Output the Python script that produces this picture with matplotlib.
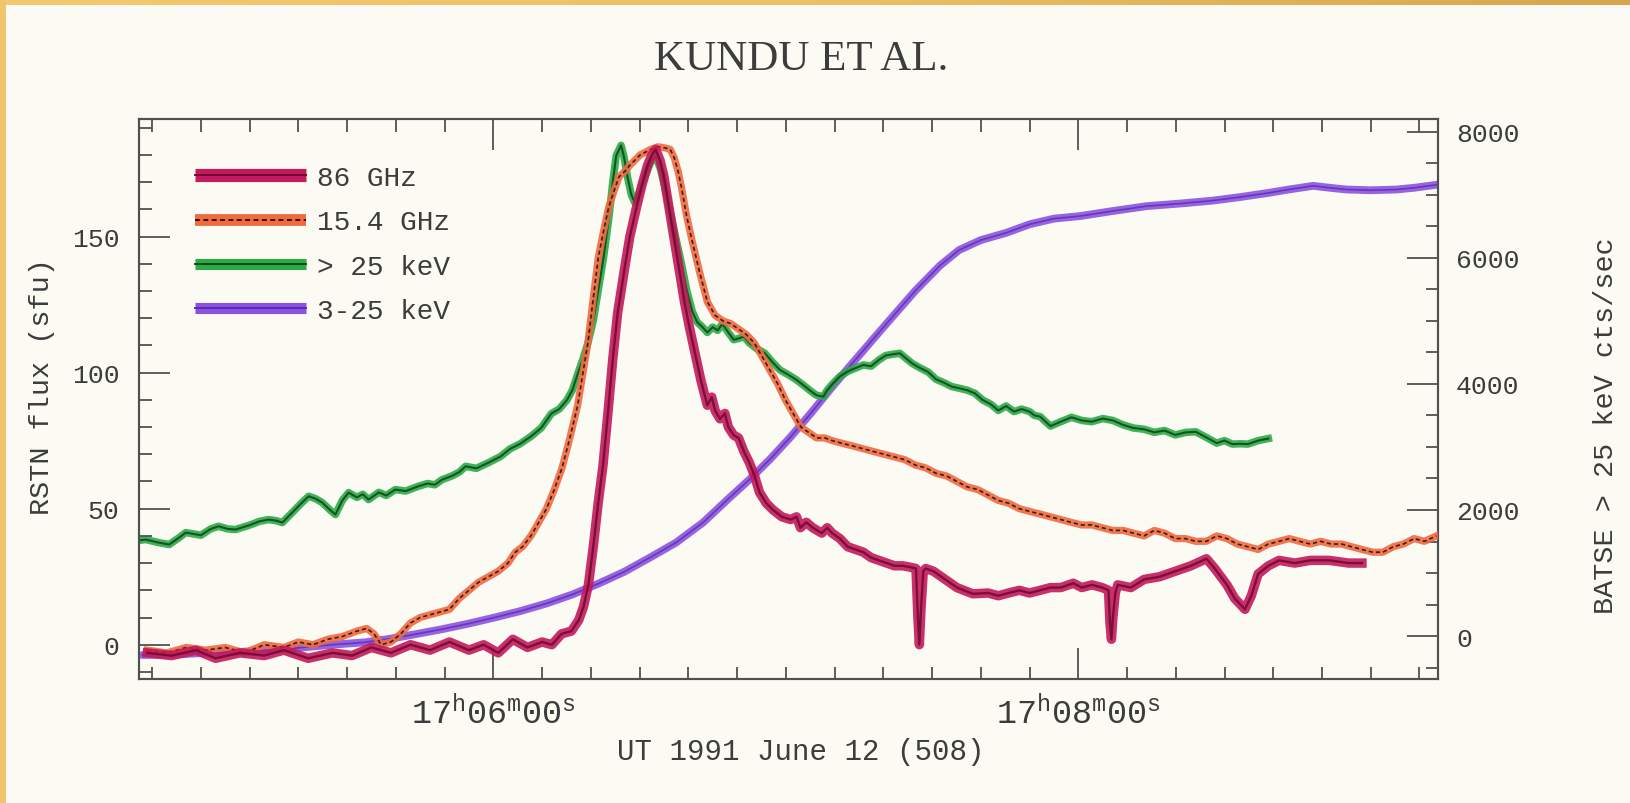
import matplotlib
matplotlib.use("Agg")
import matplotlib.pyplot as plt
import numpy as np
from matplotlib.lines import Line2D
from matplotlib.legend_handler import HandlerTuple
from matplotlib.ticker import MultipleLocator, FixedLocator
from matplotlib.colors import LinearSegmentedColormap

plt.rcParams['mathtext.fontset'] = 'custom'
plt.rcParams['mathtext.rm'] = 'Liberation Mono'
plt.rcParams['mathtext.it'] = 'Liberation Mono'
plt.rcParams['mathtext.bf'] = 'Liberation Mono:bold'

# ---------------- data (time in seconds after 17:06:00 UT) ----------------
t_86 = [-71, -66, -61, -57, -52, -47, -43, -38, -33, -29, -25, -21, -17, -13, -9, -5, -2, 1, 4, 7,
        10, 12, 14, 16, 17.5, 18.5, 19.5, 20.5, 21.5, 22.5, 23.5, 24.5, 25.5, 26.9, 28, 29.4, 30.5,
        31.6, 32.5, 33.3, 34.2, 35, 36, 37.1, 38.2, 39.2, 40.3, 41.4, 42.6, 43.9, 44.8, 45.5, 46.5,
        47.5, 48.2, 49.3, 50.3, 51.4, 52.5, 53.6, 54.6, 56, 57.4, 59.2, 61, 62.2, 63, 64.2, 65.5,
        67.4, 68.5, 69.5, 71.1, 72.7, 74.3, 75.9, 77.5, 79.1, 80.7, 82.3, 84, 85.5, 86.7, 87.1,
        87.4, 87.7, 88.2, 88.7, 90.3, 91.9, 93.5, 95.1, 97.2, 98.4, 101.5, 103.6, 105.7, 107.9,
        110, 112.2, 114.3, 116.4, 119, 120.7, 122.8, 124.9, 126.2, 126.5, 126.8, 127.1, 127.6,
        128.1, 130.8, 133.5, 136.7, 139.9, 143.1, 146.3, 148, 150.5, 152.1, 154.2, 155.5, 156.9,
        159, 161.2, 164.4, 167.6, 171.5, 175.5, 178.2]
v_86 = [-3, -4, -2, -5, -3, -4, -2, -5, -3, -4, -1, -3, 0, -2, 1, -2, 0, -3, 2, -1,
        1, 0, 4, 5, 9, 14, 22, 36, 52, 66, 85, 105, 122, 138, 150, 161, 169,
        176, 180, 182, 178, 172, 161, 149, 137, 126, 116, 107, 97, 88, 91, 86, 83,
        85, 80, 77, 76, 71, 67, 62, 56, 52, 49.5, 47, 46, 47, 43, 45, 43,
        41, 43, 41, 39, 36, 35, 34, 32, 31, 30, 29, 29, 28.5, 28, 10,
        0, 12, 27, 28, 27, 25, 23, 21, 19.5, 18.7, 19, 18, 19, 20,
        19, 20, 21, 21, 22.6, 21, 22, 21, 20, 8, 2, 10, 19,
        22, 21, 24, 25, 27, 29, 31.6, 28, 22, 17, 13, 18, 26,
        29, 31, 30, 31, 31, 30, 30]

t_154 = [-71, -67, -63, -59, -55, -51, -47, -43, -40, -37, -34, -31, -28, -26, -24.5, -23, -21, -19,
         -17, -15, -13, -11, -9, -7, -5, -3, -1, 1, 3, 4.5, 6, 7.7, 9, 10.9, 12.5, 14.1, 15.7,
         17.3, 18.4, 19.4, 20.4, 21.5, 22.6, 23.7, 24.8, 25.8, 27, 27.9, 29, 30.1, 31.2, 32.2,
         33.8, 35.4, 36.3, 37.1, 37.9, 38.6, 39.6, 40.7, 42.3, 43.9, 45.5, 47.1, 48.7, 50.3, 51.9,
         53.5, 55.1, 56.7, 58.3, 59.9, 61.5, 63.1, 64.7, 66.3, 68, 69.5, 71.6, 73.8, 75.9, 78,
         80.1, 82.3, 84.4, 86.6, 88.7, 90.8, 93, 95.1, 97.2, 99.4, 101.5, 103.6, 105.7, 107.9,
         110, 112.2, 114.3, 116.4, 118.5, 120.7, 122.8, 124.9, 127, 129.2, 131.3, 133.5, 135.6,
         137.7, 139.9, 142, 144.1, 146.3, 148.4, 150.5, 152.6, 154.8, 156.9, 159, 161.2, 163.3,
         165.4, 167.6, 169.7, 171.9, 174, 176.1, 178.2, 180.4, 182.5, 184.6, 186.7, 188.9, 191,
         193.5]
v_154 = [-2, -3, -1, -2, -1, -3, 0, -1, 1, 0, 2, 3, 5, 6, 4, 0, 1, 4,
         8, 10, 11, 12, 13, 17, 20, 23, 25, 27, 30, 34, 36, 40, 44, 50, 57, 65, 76,
         88, 100, 111, 126, 142, 152, 161, 167, 172, 174, 176, 178, 180, 181, 182,
         183, 182.5, 182, 179, 174, 168, 158, 149, 137, 126, 121, 119, 118, 116, 114,
         111, 106, 101, 96, 90, 85, 80, 78, 76, 76, 75, 74, 73, 72, 71,
         70, 69, 68, 66, 65, 63, 62, 60, 58, 57, 55, 53, 52, 50,
         49, 48, 47, 46, 45, 44, 44, 43, 42, 42, 41, 40, 42,
         41, 39, 39, 38, 38, 40, 39, 37, 36, 35, 37, 38, 39,
         38, 37, 38, 37, 37, 36, 35, 34, 34, 36, 37, 39, 38,
         40]

t_hxr = [-72.5, -71.3, -68.5, -66.5, -64.5, -63.1, -60, -58, -56.4, -54.5, -52.9, -50, -48, -46.1,
         -44.5, -43.3, -41, -39.5, -37.9, -36.5, -35.1, -33.5, -32.4, -31, -29.7, -28, -26.8,
         -25.6, -23.5, -22, -20.1, -18, -15.4, -13.5, -12, -10.5, -8.5, -7, -5.7, -3.5, -0.9,
         1.5, 3.4, 5.5, 7.7, 9.8, 11.9, 13.5, 15.1, 16.2, 17.3, 18.4, 19.4, 20.5, 21.5, 22.6,
         23.7, 24.5, 25.2, 26.2, 26.8, 27.5, 28.3, 29, 30, 31.1, 32.2, 33.3, 34.3, 35.4, 36.5,
         37.5, 38.6, 39.7, 40.8, 41.8, 42.9, 43.9, 45, 46, 47, 48.2, 49.3, 50.3, 51.4, 52.5, 54,
         55.7, 57.2, 58.8, 60.4, 62, 63.6, 65.2, 66.3, 67.7, 68.5, 69.5, 71.1, 72.7, 74.3, 75.9,
         77.5, 79.1, 80.5, 82, 83.4, 84.4, 86, 87.6, 89.2, 90.8, 92.4, 94, 95.6, 97.2, 98.8,
         100.4, 102, 103.6, 105.2, 106.8, 108.4, 110, 111, 112.2, 113.3, 114.3, 116.4, 118.6,
         120.7, 122.8, 125, 127.1, 129.2, 131.3, 133.5, 135.6, 137.7, 139.9, 142, 144.1, 146.3,
         148.4, 150, 151.6, 153.2, 154.8, 156.9, 159]
r_hxr = [1520, 1531, 1480, 1452, 1560, 1642, 1600, 1700, 1742, 1700, 1690, 1760, 1820, 1848,
         1830, 1800, 1980, 2100, 2218, 2180, 2117, 2000, 1927, 2150, 2276, 2200, 2250,
         2165, 2280, 2230, 2324, 2300, 2376, 2420, 2400, 2482, 2540, 2600, 2693, 2660, 2754,
         2850, 2968, 3050, 3166, 3300, 3529, 3600, 3743, 3900, 4155, 4400, 4650, 5000, 5475, 6000,
         6629, 7200, 7618, 7783, 7600, 7289, 7000, 6876, 7050, 7289, 7500, 7618, 7400, 7041, 6650,
         6299, 5900, 5475, 5150, 4980, 4900, 4815, 4900, 4848, 4950, 4815, 4700, 4720, 4750, 4650, 4560,
         4485, 4350, 4220, 4150, 4073, 3980, 3880, 3820, 3797, 3900, 3991, 4120, 4197, 4250, 4300,
         4280, 4380, 4450, 4470, 4485, 4420, 4320, 4250, 4188, 4073, 4020, 3958, 3930, 3900, 3850,
         3743, 3680, 3578, 3650, 3560, 3600, 3560, 3500, 3480, 3400, 3330, 3400, 3470,
         3420, 3400, 3450, 3420, 3350, 3300, 3280, 3231, 3260, 3190, 3230, 3240, 3150,
         3060, 3100, 3045, 3050, 3045, 3100, 3133]

t_sxr = [-72, -65, -58.4, -52, -47.8, -42, -37.1, -32, -26.4, -21, -15.8, -10.5, -5.1, 0, 5.5, 11,
         16.2, 21.5, 26.9, 32, 37.5, 43, 48.2, 52.5, 56.7, 61, 65.2, 69.5, 73.8, 78, 82.3, 86.6,
         91.6, 95.5, 100, 105.3, 110, 115, 120.3, 127, 134, 141, 147.6, 153, 158.6, 163, 168.2,
         171.5, 175, 180, 185.3, 189, 193.8]
r_sxr = [-300, -290, -264, -250, -231, -200, -165, -130, -99, -40, 33, 110, 198, 290, 396, 520,
         660, 830, 1022, 1240, 1484, 1800, 2177, 2480, 2800, 3160, 3540, 3950, 4340, 4717, 5100, 5480,
         5874, 6120, 6280, 6397, 6530, 6620, 6660, 6740, 6818, 6860, 6906, 6960, 7023, 7080, 7140,
         7110, 7082, 7070, 7082, 7110, 7160]

labels = ['86 GHz', '15.4 GHz', '> 25 keV', '3-25 keV']
x_major = [0, 120]
x_major_labels = [r'$\mathrm{17^{h}06^{m}00^{s}}$', r'$\mathrm{17^{h}08^{m}00^{s}}$']

# ---------------- styling ----------------
BG = '#FBFAF3'
INK = '#3c3c3c'
MONO = 'Liberation Mono'

c86, c86k = '#C4195C', '#6E0A2C'
c154, c154k = '#F06A40', '#2a1408'
chxr, chxrk = '#2DAA48', '#0D4A1A'
csxr, csxrk = '#8B52E2', '#5A2CAE'

W, H = 1631, 804
fig = plt.figure(figsize=(W / 100, H / 100), dpi=100, facecolor=BG)

# golden frame (top and left)
gax = fig.add_axes([0, 1 - 6 / H, 1, 6 / H])
grad = np.linspace(0, 1, 256)[None, :]
gcm = LinearSegmentedColormap.from_list('gold', ['#F3C971', '#EDBF66', '#D7A54F'])
gax.imshow(grad, aspect='auto', cmap=gcm, extent=[0, 1, 0, 1])
gax.axis('off')
lax = fig.add_axes([0, 0, 6 / W, 1])
lax.set_facecolor('#EFC46C')
lax.set_xticks([]); lax.set_yticks([])
for s in lax.spines.values():
    s.set_visible(False)

x0, x1, y0, y1 = 139, 1438, 120, 680
ax = fig.add_axes([x0 / W, 1 - y1 / H, (x1 - x0) / W, (y1 - y0) / H])
ax2 = ax.twinx()

ax.set_xlim(-72.7, 193.8)
ax.set_ylim(-12.6, 193.2)
ax2.set_ylim(-680, 8200)

# purple (bottom), green, then radio curves on top
ax2.plot(t_sxr, r_sxr, color=csxr, lw=5.6, alpha=0.9, solid_capstyle='round', zorder=1)
ax2.plot(t_sxr, r_sxr, color=csxrk, lw=1.2, alpha=0.8, zorder=2)
ax2.plot(t_hxr, r_hxr, color=chxr, lw=5.4, alpha=0.9, solid_joinstyle='round', zorder=3)
ax2.plot(t_hxr, r_hxr, color=chxrk, lw=1.5, alpha=0.9, zorder=4)
ax.plot(t_154, v_154, color=c154, lw=5.2, alpha=0.9, solid_joinstyle='round', zorder=5)
ax.plot(t_154, v_154, color=c154k, lw=1.2, ls=(0, (2.5, 1.8)), alpha=0.9, zorder=6)
ax.plot(t_86, v_86, color=c86, lw=6.8, alpha=0.9, solid_joinstyle='round', zorder=7)
ax.plot(t_86, v_86, color=c86k, lw=1.7, alpha=0.85, zorder=8)

# twin (x-ray) drawn beneath the radio axes
ax2.set_zorder(1)
ax.set_zorder(2)
ax.patch.set_visible(False)
ax2.patch.set_visible(True)
ax2.patch.set_facecolor(BG)

# ticks
ax.xaxis.set_major_locator(FixedLocator(x_major))
ax.set_xticklabels(x_major_labels)
ax.xaxis.set_minor_locator(MultipleLocator(10))
ax.yaxis.set_major_locator(MultipleLocator(50))
ax.yaxis.set_minor_locator(MultipleLocator(10))
ax2.yaxis.set_major_locator(MultipleLocator(2000))
ax2.yaxis.set_minor_locator(MultipleLocator(500))

for a in (ax, ax2):
    a.tick_params(which='both', direction='in', color='#505050', width=1.3)
    for s in a.spines.values():
        s.set_color('#505050')
        s.set_linewidth(1.5)
ax.tick_params(axis='x', which='major', length=22, top=True, labelsize=24, pad=11, labelcolor=INK)
ax.tick_params(axis='x', which='minor', length=9, top=True)
ax.tick_params(axis='y', which='major', length=22, labelsize=19, pad=14, labelcolor=INK, right=False)
ax.tick_params(axis='y', which='minor', length=9, right=False)
ax2.tick_params(axis='y', which='major', length=22, labelsize=19, pad=13, labelcolor=INK)
ax2.tick_params(axis='y', which='minor', length=9)
for lab in ax.get_yticklabels() + ax2.get_yticklabels():
    lab.set_family(MONO)

ax.set_ylabel('RSTN flux (sfu)', fontsize=20.5, family=MONO, color=INK)
ax.yaxis.set_label_coords((42 - x0) / (x1 - x0), (y1 - 387) / (y1 - y0))
ax.yaxis.label.set_va('center')
ax2.set_ylabel('BATSE > 25 keV cts/sec', fontsize=20.5, family=MONO, color=INK, rotation=90)
ax2.yaxis.set_label_coords((1606 - x0) / (x1 - x0), (y1 - 426) / (y1 - y0))
ax2.yaxis.label.set_va('center')
ax.set_xlabel('UT 1991 June 12 (508)', fontsize=21, family=MONO, color=INK)
ax.xaxis.set_label_coords((801 - x0) / (x1 - x0), (y1 - 752) / (y1 - y0))
ax.xaxis.label.set_va('center')

fig.text(801 / W, 1 - 60 / H, 'KUNDU ET AL.', ha='center', va='center', fontsize=31,
         family='Liberation Serif', color=INK)

# legend
def pair(c, ck, lw, ls='-'):
    return (Line2D([], [], color=c, lw=lw, solid_capstyle='butt'),
            Line2D([], [], color=ck, lw=1.4, ls=ls))

handles = [pair(c86, c86k, 9.5), pair(c154, c154k, 8.5, (0, (2.5, 1.8))),
           pair(chxr, chxrk, 8), pair(csxr, csxrk, 8)]
leg = ax.legend(handles, labels, handler_map={tuple: HandlerTuple(ndivide=1, pad=0)},
                loc='upper left', bbox_to_anchor=((195 - x0) / (x1 - x0), (y1 - 166) / (y1 - y0)),
                frameon=False, borderpad=0, borderaxespad=0, handlelength=4.0,
                handletextpad=0.4, labelspacing=0.66,
                prop={'family': MONO, 'size': 20})
for txt in leg.get_texts():
    txt.set_color(INK)

fig.savefig('out.png', dpi=100, facecolor=BG)
